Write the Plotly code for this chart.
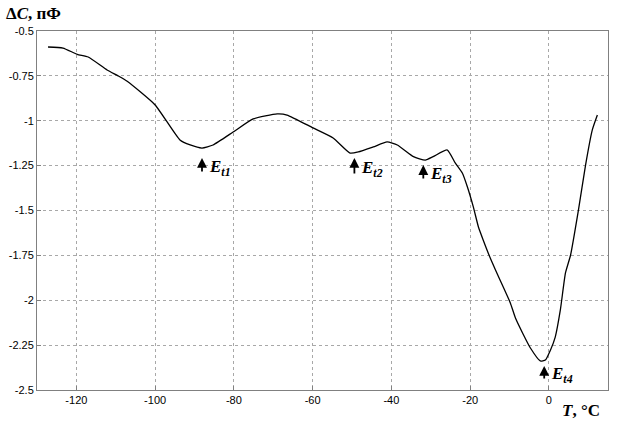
import plotly.graph_objects as go

T = [-127.2, -123.4, -119.8, -117.0, -112.2, -109.4, -107.1, -100.0, -93.7, -91.1,
     -88.1, -85.3, -80.2, -75.1, -69.0, -66.5, -59.9, -54.8, -50.5, -48.4,
     -44.6, -41.1, -38.5, -34.4, -31.4, -29.4, -25.8, -23.8, -22.0, -20.7,
     -19.2, -17.9, -16.7, -14.9, -13.6, -11.6, -9.8, -8.5, -6.7, -4.7,
     -2.2, -0.9, 0.4, 1.6, 2.9, 4.2, 5.5, 7.5, 9.3, 11.0, 12.3]
dC = [-0.589, -0.595, -0.63, -0.645, -0.717, -0.75, -0.78, -0.912, -1.107, -1.135,
      -1.152, -1.135, -1.063, -0.99, -0.962, -0.968, -1.04, -1.096, -1.18, -1.174,
      -1.146, -1.118, -1.135, -1.2, -1.219, -1.2, -1.163, -1.235, -1.291, -1.369,
      -1.48, -1.592, -1.664, -1.765, -1.83, -1.926, -2.015, -2.099, -2.182, -2.266,
      -2.338, -2.333, -2.277, -2.205, -2.054, -1.848, -1.748, -1.497, -1.247, -1.052, -0.968]

x_ticks = [-120, -100, -80, -60, -40, -20, 0]
y_ticks = [-0.5, -0.75, -1, -1.25, -1.5, -1.75, -2, -2.25, -2.5]
y_tick_text = ["-0.5", "-0.75", "-1", "-1.25", "-1.5", "-1.75", "-2", "-2.25", "-2.5"]

labels = ["t1", "t2", "t3", "t4"]
arrow_x = [-88.1, -49.4, -31.9, -1.2]
arrow_top = [-1.207, -1.207, -1.247, -2.366]
arrow_bottom = [-1.291, -1.302, -1.33, -2.444]

fig = go.Figure()
fig.add_trace(go.Scatter(x=T, y=dC, mode="lines", line=dict(color="black", width=1.3),
                         line_shape="spline", line_smoothing=0.5, showlegend=False))

for lab, ax_, yt, yb in zip(labels, arrow_x, arrow_top, arrow_bottom):
    fig.add_annotation(x=ax_, y=yt, ax=ax_, ay=yb, axref="x", ayref="y", xref="x", yref="y",
                       text="", showarrow=True, arrowhead=2, arrowsize=1.1, arrowwidth=1.8,
                       arrowcolor="black")
    fig.add_annotation(x=ax_ + 1.2, y=(yt + yb) / 2 - 0.012, xref="x", yref="y", xanchor="left",
                       yanchor="middle", showarrow=False,
                       text="<b><i>E<sub>" + lab + "</sub></i></b>",
                       font=dict(family="Liberation Serif", size=17, color="black"))

fig.add_annotation(xref="paper", yref="paper", x=-0.058, y=1.05, xanchor="left", yanchor="middle",
                   showarrow=False, text="<b>Δ<i>C</i>, пФ</b>",
                   font=dict(family="Liberation Serif", size=17, color="black"))
fig.add_annotation(xref="paper", yref="paper", x=0.99, y=-0.058, xanchor="right", yanchor="middle",
                   showarrow=False, text="<b><i>T</i>, °C</b>",
                   font=dict(family="Liberation Serif", size=17, color="black"))

axis_common = dict(showline=True, linecolor="#808080", linewidth=1, mirror=True,
                   showgrid=True, gridcolor="#a8a8a8", griddash="dot", gridwidth=1,
                   zeroline=False, ticks="inside", ticklen=4, tickcolor="#808080",
                   automargin=False,
                   tickfont=dict(family="Liberation Sans", size=11, color="black"))

fig.update_xaxes(range=[-130, 15], tickvals=x_ticks, ticktext=[str(v) for v in x_ticks], **axis_common)
fig.update_yaxes(range=[-2.5, -0.5], tickvals=y_ticks, ticktext=y_tick_text, **axis_common)

fig.update_layout(width=619, height=429, margin=dict(l=37, r=11, t=31, b=39),
                  paper_bgcolor="white", plot_bgcolor="white")

fig.write_html("out.html", config={"displayModeBar": False},
               post_script="document.body.style.margin='0';document.body.style.overflow='hidden';")
